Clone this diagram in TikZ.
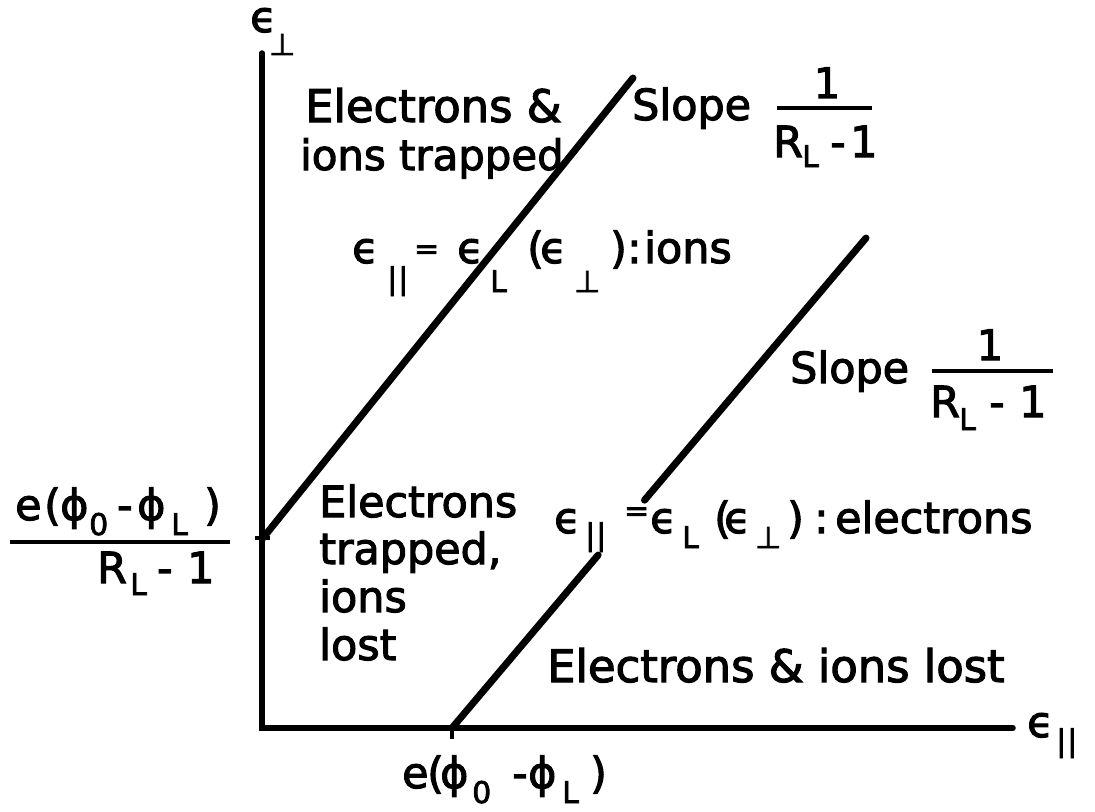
\documentclass[tikz,border=0pt]{standalone}
\usepackage{fontspec}
\setmainfont[FakeBold=2.5]{DejaVu Sans}
\usetikzlibrary{calc}
\newcommand\pc[2]{\makebox[#1bp][l]{#2}}
\newcommand\dn[2]{\raisebox{-#1bp}{\fontsize{30}{30}\selectfont #2}}
\newcommand\eqs[1]{\raisebox{#1bp}{\fontsize{30}{30}\selectfont =}}
\newcommand\pll{|\kern1bp|}
\begin{document}
\begin{tikzpicture}[x=1bp,y=-1bp,
  lbl/.style={anchor=base west, inner sep=0pt, font=\fontsize{43}{48}\selectfont},
  big/.style={lbl, font=\fontsize{45}{48}\selectfont},
  num/.style={anchor=base, inner sep=0pt, font=\fontsize{42}{48}\selectfont},
  axisline/.style={line width=5.5bp, line cap=round},
  boundary/.style={line width=7bp, line cap=round},
  tickmark/.style={line width=4bp},
  fracbar/.style={line width=3.5bp}]
\useasboundingbox (0,0) rectangle (1095,812);
% axes
\coordinate (top) at (262,53);
\coordinate (O) at (262,728);
\coordinate (right) at (1013,728);
\draw[axisline] (top) -- (O) -- (right);
% ion boundary
\coordinate (i0) at (263,538);
\coordinate (i1) at (633,78);
\draw[boundary] (i0) -- (i1);
\draw[tickmark] (255,538) -- (270,538);
% electron boundary (broken for label)
\coordinate (e0) at (452,728);
\coordinate (e1) at (866,238);
\draw[boundary] (e0) -- ($(e0)!0.353!(e1)$);
\draw[boundary] ($(e0)!0.465!(e1)$) -- (e1);
\draw[tickmark] (452,728) -- (452,739);
% axis labels
\node[lbl] (eperp) at (250,32) {\pc{19}{ϵ}\dn{23}{⊥}};
\node[lbl] (epar) at (1027,737) {\pc{29}{ϵ}\dn{14}{\pll}};
% region labels
\node[big] (r1a) at (305,122) {Electrons \&};
\node[lbl, font=\fontsize{42}{48}\selectfont] (r1b) at (300,170) {ions trapped};
\node[lbl] (r2a) at (319,517) {Electrons};
\node[lbl] (r2b) at (319,564) {trapped,};
\node[lbl] (r2c) at (319,612) {ions};
\node[lbl] (r2d) at (319,660) {lost};
\node[big] (r3) at (547,682) {Electrons \& ions lost};
% slope 1
\node[lbl] (s1) at (632,120) {Slope};
\node[num] (s1n) at (827,98) {1};
\draw[fracbar] (777,108) -- (872,108);
\node[lbl] (s1d) at (773,157) {\pc{29}{R}\pc{28}{\dn{10}{L}}\pc{20}{-}1};
% slope 2
\node[lbl] (s2) at (790,383) {Slope};
\node[num] (s2n) at (990,360) {1};
\draw[fracbar] (932,371) -- (1053,371);
\node[lbl] (s2d) at (930,417) {\pc{29}{R}\pc{30}{\dn{13}{L}}\pc{30}{-}1};
% boundary equations
\node[lbl] (ions) at (352,263) {\pc{35}{ϵ}\pc{27}{\dn{26}{\pll}}\pc{43}{\eqs{4}}\pc{33}{ϵ}\pc{37}{\dn{29}{L}}\pc{13}{(}\pc{34}{ϵ}\pc{36}{\dn{29}{⊥}}\pc{17}{)}\pc{17}{:}ions};
\node[lbl] (elec) at (554,533) {\pc{31}{ϵ}\pc{39}{\dn{12}{\pll}}\pc{26}{\eqs{12}}\pc{32}{ϵ}\pc{32}{\dn{15}{L}}\pc{10}{(}\pc{31}{ϵ}\pc{32}{\dn{15}{⊥}}\pc{27}{)}\pc{21}{:}electrons};
% left intercept label
\node[lbl] (lnum) at (15,520) {\pc{29}{e}\pc{16}{(}\pc{29}{ϕ}\pc{28}{\dn{15}{0}}\pc{20}{-}\pc{34}{ϕ}\pc{33}{\dn{15}{L}})};
\draw[fracbar] (10,542) -- (230,542);
\node[lbl] (lden) at (97,583) {\pc{33}{R}\pc{27}{\dn{12}{L}}\pc{30}{-}1};
% bottom intercept label
\node[lbl] (bot) at (402,788) {\pc{25}{e}\pc{13}{(}\pc{32}{ϕ}\pc{40}{\dn{15}{0}}\pc{16}{-}\pc{34}{ϕ}\pc{28}{\dn{15}{L}})};
\end{tikzpicture}
\end{document}
